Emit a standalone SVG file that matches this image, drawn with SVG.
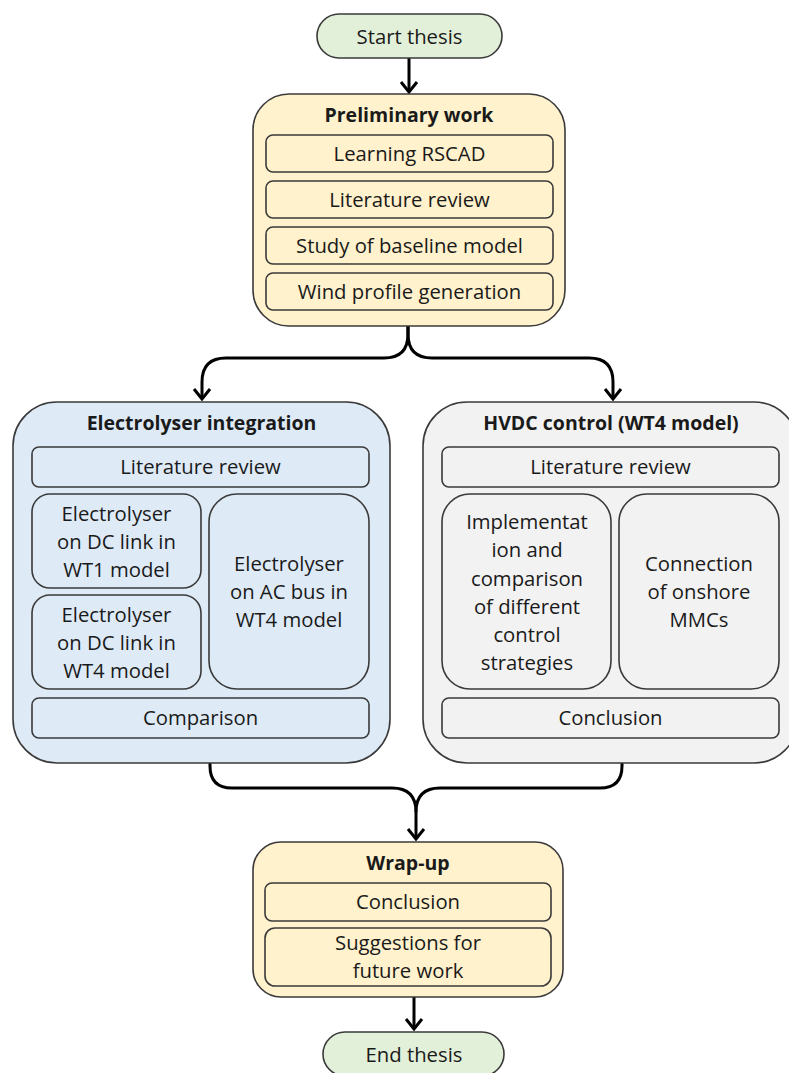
<svg xmlns="http://www.w3.org/2000/svg" width="789" height="1073" viewBox="0 0 789 1073">
<defs>
<style>
.bg{fill:#ffffff}
.term{fill:#e2f0d9;stroke:#3a3a3a;stroke-width:1.6}
.yel{fill:#fff2cc;stroke:#3a3a3a;stroke-width:1.6}
.blu{fill:#deebf7;stroke:#3a3a3a;stroke-width:1.6}
.gry{fill:#f2f2f2;stroke:#3a3a3a;stroke-width:1.6}
.t{font-family:"Open Sans","Noto Sans",sans-serif;font-size:20.3px;fill:#1a1a1a;text-anchor:middle}
.b{font-weight:bold;font-size:19.5px}
.con{fill:none;stroke:#000;stroke-width:3}
</style>
<marker id="arr" viewBox="0 0 14 20" refX="12" refY="10" markerWidth="14" markerHeight="20" markerUnits="userSpaceOnUse" orient="auto">
<path d="M2,2 L12,10 L2,18" fill="none" stroke="#000" stroke-width="3"/>
</marker>
</defs>
<rect class="bg" x="0" y="0" width="789" height="1073"/>

<g id="connectors">
<path class="con" d="M409,57 L409,92" marker-end="url(#arr)"/>
<path class="con" d="M408,326 L408,334 Q408,358 384,358 L226,358 Q202,358 202,382 L202,399" marker-end="url(#arr)"/>
<path class="con" d="M408,326 L408,334 Q408,358 432,358 L589,358 Q613,358 613,382 L613,399" marker-end="url(#arr)"/>
<path class="con" d="M210,763 L210,766 Q210,788 232,788 L392,788 Q416,788 416,812 L416,839" marker-end="url(#arr)"/>
<path class="con" d="M622,763 L622,766 Q622,788 600,788 L440,788 Q416,788 416,812"/>
<path class="con" d="M414,997 L414,1029" marker-end="url(#arr)"/>
</g>

<g id="start">
<rect class="term" x="317" y="14" width="185" height="44" rx="22"/>
<text class="t" x="409.5" y="44">Start thesis</text>
</g>

<g id="preliminary">
<rect class="yel" x="253" y="94" width="312" height="232" rx="36"/>
<text class="t b" x="409" y="122">Preliminary work</text>
<rect class="yel" x="266" y="135" width="287" height="37" rx="7"/>
<text class="t" x="409.5" y="161">Learning RSCAD</text>
<rect class="yel" x="266" y="181" width="287" height="37" rx="7"/>
<text class="t" x="409.5" y="207">Literature review</text>
<rect class="yel" x="266" y="227" width="287" height="37" rx="7"/>
<text class="t" x="409.5" y="253">Study of baseline model</text>
<rect class="yel" x="266" y="273" width="287" height="37" rx="7"/>
<text class="t" x="409.5" y="299">Wind profile generation</text>
</g>

<g id="electrolyser">
<rect class="blu" x="13" y="402" width="377" height="361" rx="44"/>
<text class="t b" x="201.5" y="430">Electrolyser integration</text>
<rect class="blu" x="32" y="447" width="337" height="40" rx="7"/>
<text class="t" x="200.5" y="474">Literature review</text>
<rect class="blu" x="32" y="494" width="169" height="94" rx="18"/>
<text class="t"><tspan x="116.5" y="521">Electrolyser</tspan><tspan x="116.5" y="549">on DC link in</tspan><tspan x="116.5" y="577">WT1 model</tspan></text>
<rect class="blu" x="32" y="595" width="169" height="94" rx="18"/>
<text class="t"><tspan x="116.5" y="622">Electrolyser</tspan><tspan x="116.5" y="650">on DC link in</tspan><tspan x="116.5" y="678">WT4 model</tspan></text>
<rect class="blu" x="209" y="494" width="160" height="195" rx="28"/>
<text class="t"><tspan x="289" y="571">Electrolyser</tspan><tspan x="289" y="599">on AC bus in</tspan><tspan x="289" y="627">WT4 model</tspan></text>
<rect class="blu" x="32" y="698" width="337" height="40" rx="7"/>
<text class="t" x="200.5" y="725">Comparison</text>
</g>

<g id="hvdc">
<rect class="gry" x="423" y="402" width="375" height="361" rx="44"/>
<text class="t b" x="611" y="430">HVDC control (WT4 model)</text>
<rect class="gry" x="442" y="447" width="337" height="40" rx="7"/>
<text class="t" x="610.5" y="474">Literature review</text>
<rect class="gry" x="442" y="494" width="169" height="195" rx="28"/>
<text class="t"><tspan x="527" y="529">Implementat</tspan><tspan x="527" y="557">ion and</tspan><tspan x="527" y="586">comparison</tspan><tspan x="527" y="614">of different</tspan><tspan x="527" y="642">control</tspan><tspan x="527" y="670">strategies</tspan></text>
<rect class="gry" x="619" y="494" width="160" height="195" rx="28"/>
<text class="t"><tspan x="699" y="571">Connection</tspan><tspan x="699" y="599">of onshore</tspan><tspan x="699" y="627">MMCs</tspan></text>
<rect class="gry" x="442" y="698" width="337" height="40" rx="7"/>
<text class="t" x="610.5" y="725">Conclusion</text>
</g>

<g id="wrapup">
<rect class="yel" x="253" y="842" width="310" height="155" rx="28"/>
<text class="t b" x="408" y="870">Wrap-up</text>
<rect class="yel" x="265" y="883" width="286" height="38" rx="7"/>
<text class="t" x="408" y="909">Conclusion</text>
<rect class="yel" x="265" y="928" width="286" height="58" rx="10"/>
<text class="t"><tspan x="408" y="950">Suggestions for</tspan><tspan x="408" y="978">future work</tspan></text>
</g>

<g id="end">
<rect class="term" x="323" y="1032" width="181" height="44" rx="22"/>
<text class="t" x="414" y="1062">End thesis</text>
</g>
</svg>
